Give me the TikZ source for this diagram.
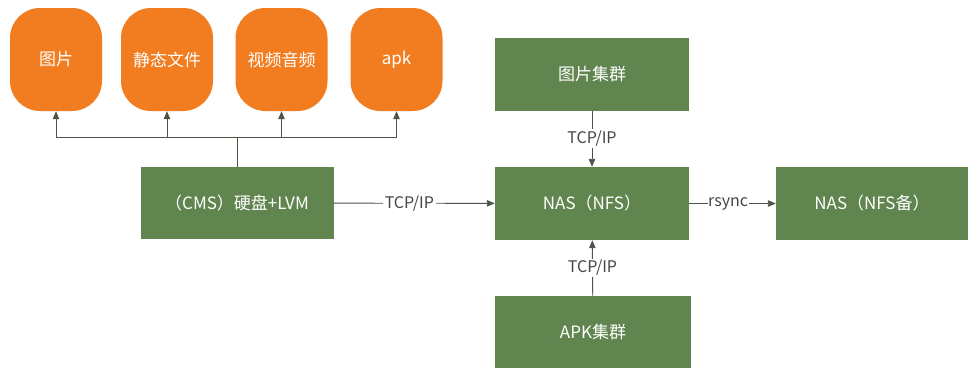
\documentclass[tikz,border=0pt]{standalone}
\usepackage{fontspec}
\setmainfont{Noto Sans CJK SC}
\usetikzlibrary{arrows.meta}
\definecolor{boxgreen}{RGB}{96,133,78}
\definecolor{boxorange}{RGB}{242,125,32}
\definecolor{wire}{RGB}{75,85,70}
\definecolor{labeltext}{RGB}{70,70,70}
\begin{document}
\begin{tikzpicture}[x=1pt,y=-1pt,
  store/.style={fill=boxorange, rounded corners=30pt, minimum width=92pt,
    minimum height=103pt, inner sep=0pt, text=white,
    font=\fontsize{17}{19}\selectfont},
  unit/.style={fill=boxgreen, minimum width=194pt, minimum height=73pt,
    inner sep=0pt, text=white, font=\fontsize{17}{19}\selectfont},
  link/.style={draw=wire, line width=0.9pt,
    -{Triangle[length=8pt,width=6.5pt]}},
  wireline/.style={draw=wire, line width=0.9pt},
  tag/.style={fill=white, text=labeltext, inner sep=1.5pt,
    font=\fontsize{16}{18}\selectfont}]
\useasboundingbox (0,0) rectangle (970,368);

% storage categories
\node[store] (img)    at (56,59.5)    {图片};
\node[store] (static) at (167,59.5)   {静态文件};
\node[store] (media)  at (281.5,59.5) {视频音频};
\node[store] (apk)    at (396.5,59.5) {apk};

% servers
\node[unit, minimum width=193pt, minimum height=72pt] (cms) at (237,203) {（CMS）硬盘+LVM};
\node[unit] (nas)    at (592,203.5) {NAS（NFS）};
\node[unit] (piccl)  at (592,74)    {图片集群};
\node[unit, minimum width=192pt] (nasbak) at (872,203.5) {NAS（NFS备）};
\node[unit, minimum width=196pt, minimum height=72pt] (apkcl) at (593,332) {APK集群};

% distribution bus from the CMS host
\coordinate (bus) at (237,137);
\draw[wireline] (cms.north) -- (bus);
\draw[link] (bus) -| (img.south);
\draw[link] (bus) -| (static.south);
\draw[link] (bus) -| (media.south);
\draw[link] (bus) -| (apk.south);

% network links
\draw[link] (cms) -- node[tag, pos=0.47] {TCP/IP} (nas);
\draw[link] (piccl) -- node[tag] {TCP/IP} (nas);
\draw[link] (apkcl) -- node[tag] {TCP/IP} (nas);
\draw[link] (nas) -- node[tag, inner sep=0.5pt, pos=0.45] {rsync} (nasbak);
\end{tikzpicture}
\end{document}
